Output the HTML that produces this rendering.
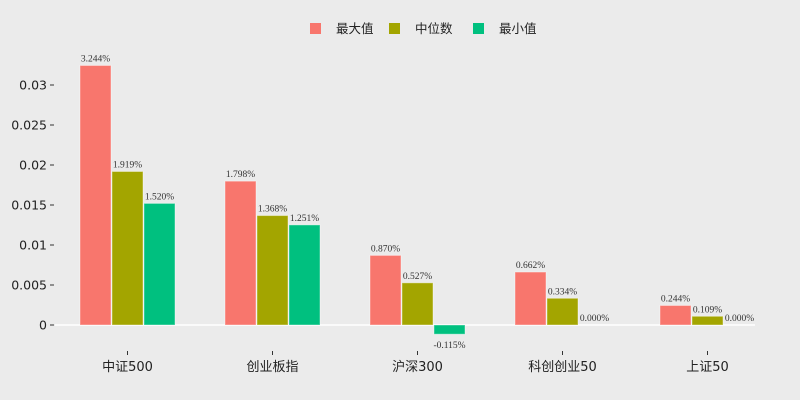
<!DOCTYPE html>
<html><head><meta charset="utf-8"><style>
body{margin:0;background:#ebebeb;}
svg{display:block;font-family:"DejaVu Sans","Noto Sans CJK SC",sans-serif;}
</style></head><body>
<svg id="c" width="800" height="400">
<rect width="800" height="400" fill="#ebebeb"/>
</svg>
<script>
const categories=["中证500","创业板指","沪深300","科创创业50","上证50"];
const seriesNames=["最大值","中位数","最小值"];
const maxVals=[0.03244,0.01798,0.00870,0.00662,0.00244];
const medVals=[0.01919,0.01368,0.00527,0.00334,0.00109];
const minVals=[0.01520,0.01251,-0.00115,0.00000,0.00000];
const yTicks=[0,0.005,0.01,0.015,0.02,0.025,0.03];
const yTickLabels=["0","0.005","0.01","0.015","0.02","0.025","0.03"];
const colors=["#f8766d","#a3a500","#00c07f"];
const svg=document.getElementById('c');
const NS='http://www.w3.org/2000/svg';
function y(v){return 325-v*8000;}
function x(i){return 55+145*i+72.5;}
function mk(t,a,txt){const e=document.createElementNS(NS,t);for(const k in a)e.setAttribute(k,a[k]);if(txt!==undefined)e.textContent=txt;svg.appendChild(e);return e;}
let e=mk('line',{x1:55,x2:755,y1:y(0),y2:y(0),stroke:'#fff','stroke-width':1.5});


yTicks.forEach((t,i)=>{
 let l=mk('line',{x1:50,x2:54,y1:y(t),y2:y(t),stroke:'#333'});
 
 
 let tx=mk('text',{x:47,y:y(t)+4.5,'text-anchor':'end','font-size':12.5,fill:'#222'},yTickLabels[i]);
 
 
});
const all=[maxVals,medVals,minVals];
categories.forEach((c,i)=>{
 let l=mk('line',{x1:x(i),x2:x(i),y1:351,y2:355,stroke:'#333'});
 
 
 let tx=mk('text',{x:x(i),y:371,'text-anchor':'middle','font-size':13,fill:'#222'},c);
 
 
 all.forEach((s,j)=>{
  const v=s[i];const bx=x(i)-47.5+j*32;
  const top=Math.min(y(v),y(0)),h=Math.abs(y(v)-y(0));
  let r=mk('rect',{x:bx,y:top,width:31,height:h,fill:colors[j],stroke:'rgba(255,255,255,0.4)','stroke-width':1});
  
  
  const ly=v<0?y(v)+14:y(v)-4;
  let t=mk('text',{x:bx+15.5,y:ly,'text-anchor':'middle','font-size':9.5,fill:'#333','font-family':'"Liberation Serif",serif'},(v*100).toFixed(3)+'%');
  
  
 });
});
const lx=[310,389,473];
seriesNames.forEach((n,j)=>{
 let r=mk('rect',{x:lx[j],y:23,width:11,height:11,fill:colors[j]});
 
 
 let t=mk('text',{x:lx[j]+26,y:33,'font-size':12.5,fill:'#222'},n);
 
 
});
</script>
</body></html>
